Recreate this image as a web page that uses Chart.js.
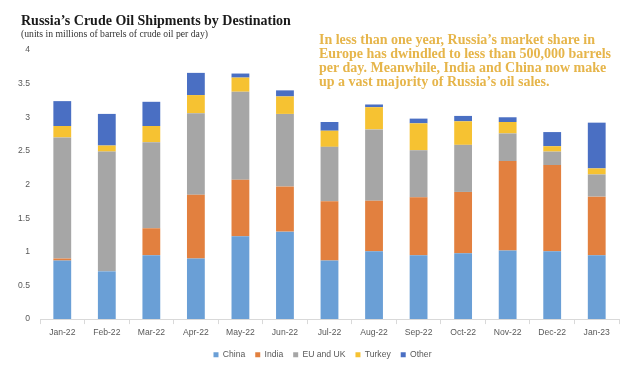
<!DOCTYPE html>
<html>
<head>
<meta charset="utf-8">
<script src="https://cdn.jsdelivr.net/npm/chart.js@4/dist/chart.umd.min.js"></script>
<style>
  html, body { margin: 0; padding: 0; background: #ffffff; }
  #wrap { position: relative; width: 633px; height: 370px; overflow: hidden; }
  #wrap canvas { position: absolute; left: 0; top: 0; }
  .title { position: absolute; left: 21px; top: 13px; font-family: "Liberation Serif", serif; font-weight: bold; font-size: 14px; color: #1a1a1a; white-space: nowrap; }
  .sub { position: absolute; left: 21px; top: 28px; font-family: "Liberation Serif", serif; font-size: 9.7px; color: #333; white-space: nowrap; }
  .note { position: absolute; left: 319px; top: 33px; font-family: "Liberation Serif", serif; font-weight: bold; font-size: 14px; line-height: 14px; color: #e6b54a; white-space: nowrap; }
</style>
</head>
<body>
<div id="wrap">
  <canvas id="c" width="633" height="370"></canvas>
  <div class="title">Russia’s Crude Oil Shipments by Destination</div>
  <div class="sub">(units in millions of barrels of crude oil per day)</div>
  <div class="note">In less than one year, Russia’s market share in<br>Europe has dwindled to less than 500,000 barrels<br>per day. Meanwhile, India and China now make<br>up a vast majority of Russia’s oil sales.</div>
</div>
<script>
const months = ["Jan-22","Feb-22","Mar-22","Apr-22","May-22","Jun-22","Jul-22","Aug-22","Sep-22","Oct-22","Nov-22","Dec-22","Jan-23"];
const china  = [0.87, 0.71, 0.95, 0.90, 1.23, 1.30, 0.87, 1.01, 0.95, 0.98, 1.02, 1.01, 0.95];
const india  = [0.03, 0.00, 0.40, 0.95, 0.84, 0.67, 0.88, 0.75, 0.86, 0.91, 1.33, 1.28, 0.87];
const euUk   = [1.80, 1.78, 1.28, 1.21, 1.31, 1.08, 0.81, 1.06, 0.70, 0.70, 0.41, 0.20, 0.33];
const turkey = [0.17, 0.09, 0.24, 0.27, 0.21, 0.26, 0.24, 0.33, 0.40, 0.35, 0.17, 0.08, 0.09];
const other  = [0.37, 0.47, 0.36, 0.33, 0.06, 0.09, 0.13, 0.04, 0.07, 0.08, 0.07, 0.21, 0.68];
const yTicks = [0, 0.5, 1, 1.5, 2, 2.5, 3, 3.5, 4];

const seriesNames = ["China", "India", "EU and UK", "Turkey", "Other"];
const seriesData = [china, india, euUk, turkey, other];
const seriesColors = ["#6a9fd6", "#e2803f", "#a6a6a6", "#f6c232", "#4a6fc3"];

const axisFont = { family: "'Liberation Sans', Arial, sans-serif", size: 8.6 };

const legendShift = {
  id: "legendShift",
  afterLayout(chart) {
    if (chart.legend) { chart.legend.left += 13; chart.legend.right += 13; }
  }
};

new Chart(document.getElementById("c"), {
  type: "bar",
  data: {
    labels: months,
    datasets: seriesNames.map((n, i) => ({
      label: n,
      data: seriesData[i],
      backgroundColor: seriesColors[i],
      borderWidth: 0,
      barPercentage: 0.8,
      categoryPercentage: 0.5
    }))
  },
  plugins: [legendShift],
  options: {
    responsive: false,
    animation: false,
    layout: { padding: { top: 50, right: 14, left: 0, bottom: 1 } },
    plugins: {
      title: { display: false },
      tooltip: { enabled: false },
      legend: {
        position: "bottom",
        labels: {
          boxWidth: 5, boxHeight: 5, padding: 10,
          color: "#595959",
          font: axisFont
        }
      }
    },
    scales: {
      x: {
        stacked: true,
        offset: true,
        grid: { display: true, drawOnChartArea: false, offset: true, color: "#d9d9d9", tickLength: 5, tickColor: "#d9d9d9" },
        border: { display: true, color: "#d9d9d9" },
        ticks: { color: "#595959", font: axisFont, padding: 3, maxRotation: 0, autoSkip: false }
      },
      y: {
        stacked: true,
        min: 0, max: 4,
        afterFit: s => { s.width = 40; },
        afterBuildTicks: s => { s.ticks = yTicks.map(v => ({ value: v })); },
        grid: { display: false, drawTicks: false },
        border: { display: false },
        ticks: { color: "#595959", font: axisFont, padding: 10, callback: v => String(v) }
      }
    }
  }
});
</script>
</body>
</html>
